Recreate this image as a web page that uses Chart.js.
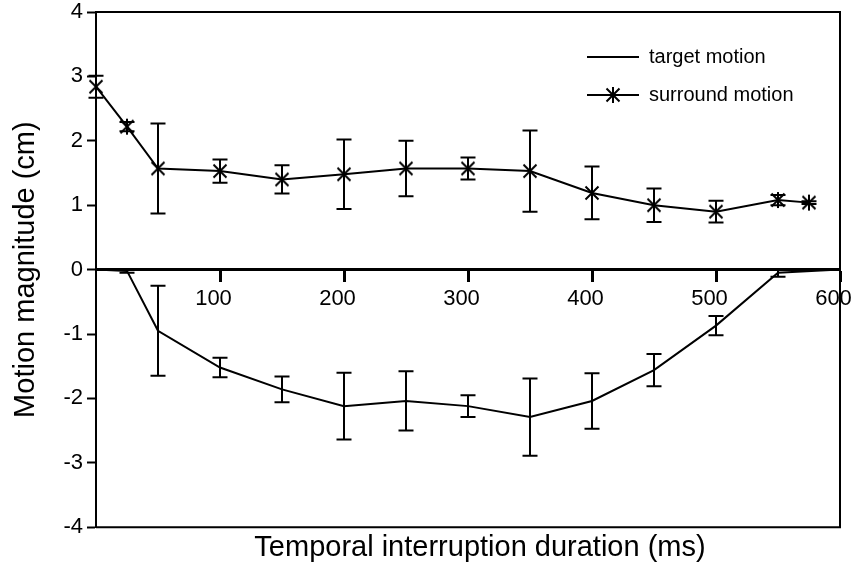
<!DOCTYPE html>
<html>
<head>
<meta charset="utf-8">
<script src="https://cdn.jsdelivr.net/npm/chart.js@4/dist/chart.umd.min.js"></script>
<style>html,body{margin:0;padding:0;background:#fff;}canvas{display:block;}</style>
</head>
<body>
<canvas id="chart" width="854" height="578"></canvas>
<script>
// ---- data ----
const surroundDurations = [0, 25, 50, 100, 150, 200, 250, 300, 350, 400, 450, 500, 550, 575];
const surroundMotion    = [2.84, 2.22, 1.57, 1.53, 1.40, 1.48, 1.57, 1.57, 1.53, 1.19, 1.00, 0.90, 1.08, 1.04];
const surroundError     = [0.17, 0.07, 0.70, 0.18, 0.22, 0.54, 0.43, 0.17, 0.63, 0.41, 0.26, 0.17, 0.08, 0.02];

const targetDurations = [0, 25, 50, 100, 150, 200, 250, 300, 350, 400, 450, 500, 550, 600];
const targetMotion    = [0, -0.02, -0.95, -1.52, -1.86, -2.12, -2.04, -2.12, -2.29, -2.04, -1.56, -0.87, -0.05, 0];
const targetError     = [0, 0.03, 0.70, 0.15, 0.20, 0.52, 0.46, 0.17, 0.60, 0.43, 0.25, 0.15, 0.06, 0];

const xTickValues = [100, 200, 300, 400, 500, 600];
const yTickValues = [-4, -3, -2, -1, 0, 1, 2, 3, 4];

const seriesLabels = ['target motion', 'surround motion'];
const xTitle = 'Temporal interruption duration (ms)';
const yTitle = 'Motion magnitude (cm)';

// ---- styling helpers ----
const FONT = "'Liberation Sans', Arial, Helvetica, sans-serif";
Chart.defaults.font.family = FONT;
Chart.defaults.color = '#000';

function drawAsterisk(ctx, cx, cy, half) {
  ctx.beginPath();
  ctx.moveTo(cx, cy - half - 1); ctx.lineTo(cx, cy + half + 1);
  ctx.moveTo(cx - half + 0.5, cy - half + 0.5); ctx.lineTo(cx + half - 0.5, cy + half - 0.5);
  ctx.moveTo(cx + half - 0.5, cy - half + 0.5); ctx.lineTo(cx - half + 0.5, cy + half - 0.5);
  ctx.stroke();
}
function makeCanvas(w, h, fn) {
  const c = document.createElement('canvas');
  c.width = w; c.height = h;
  const ctx = c.getContext('2d');
  ctx.strokeStyle = '#000'; ctx.lineWidth = 2;
  fn(ctx, w, h);
  return c;
}
const asteriskImg = makeCanvas(18, 18, (ctx) => drawAsterisk(ctx, 9, 9, 7));
const legendLineImg = makeCanvas(52, 6, (ctx, w, h) => {
  ctx.beginPath(); ctx.moveTo(0, h / 2); ctx.lineTo(w, h / 2); ctx.stroke();
});
const legendStarImg = makeCanvas(52, 18, (ctx, w, h) => {
  ctx.beginPath(); ctx.moveTo(0, h / 2); ctx.lineTo(w, h / 2); ctx.stroke();
  drawAsterisk(ctx, w / 2, h / 2, 7);
});

// error bars drawn through the chart's own scales
const errorBarPlugin = {
  id: 'errorBars',
  afterDatasetsDraw(chart) {
    const ctx = chart.ctx;
    const xs = chart.scales.x, ys = chart.scales.y;
    ctx.save();
    ctx.strokeStyle = '#000';
    ctx.lineWidth = 2;
    chart.data.datasets.forEach((ds) => {
      const errs = ds.errors || [];
      ds.data.forEach((pt, i) => {
        const e = errs[i];
        if (!e) return;
        const px = xs.getPixelForValue(pt.x);
        const top = ys.getPixelForValue(pt.y + e);
        const bot = ys.getPixelForValue(pt.y - e);
        const cap = 7.5;
        ctx.beginPath();
        ctx.moveTo(px, top); ctx.lineTo(px, bot);
        ctx.moveTo(px - cap, top); ctx.lineTo(px + cap, top);
        ctx.moveTo(px - cap, bot); ctx.lineTo(px + cap, bot);
        ctx.stroke();
      });
    });
    ctx.restore();
  }
};

// plot frame
const framePlugin = {
  id: 'frame',
  afterDraw(chart) {
    const {left, right, top, bottom} = chart.chartArea;
    const ctx = chart.ctx;
    ctx.save();
    ctx.strokeStyle = '#000';
    ctx.lineWidth = 2;
    ctx.beginPath();
    ctx.moveTo(left, top); ctx.lineTo(right, top); ctx.lineTo(right, bottom); ctx.lineTo(left, bottom);
    ctx.stroke();
    ctx.restore();
  }
};

// place the legend inside the plot (top right) and nudge the bottom title
const placePlugin = {
  id: 'place',
  afterLayout(chart) {
    const lg = chart.legend;
    if (lg) {
      const w = lg.width, h = 200;
      lg.left = 569; lg.right = 569 + w;
      lg.top = 29; lg.bottom = 29 + h;
    }
    const tb = chart.titleBlock;
    if (tb) { tb.left += 12; tb.right += 12; }
  }
};

const targetPoints = targetDurations.map((d, i) => ({x: d, y: targetMotion[i]}));
const surroundPoints = surroundDurations.map((d, i) => ({x: d, y: surroundMotion[i]}));

new Chart(document.getElementById('chart'), {
  type: 'line',
  data: {
    datasets: [
      {
        label: seriesLabels[0],
        data: targetPoints,
        errors: targetError,
        borderColor: '#000',
        borderWidth: 2,
        pointRadius: 0,
        tension: 0,
        fill: false,
        clip: false
      },
      {
        label: seriesLabels[1],
        data: surroundPoints,
        errors: surroundError,
        borderColor: '#000',
        borderWidth: 2,
        pointStyle: asteriskImg,
        pointRadius: 8,
        tension: 0,
        fill: false,
        clip: false
      }
    ]
  },
  options: {
    responsive: false,
    animation: false,
    events: [],
    layout: { padding: { left: 0, right: 14, top: 12, bottom: 0 } },
    scales: {
      x: {
        type: 'linear',
        min: 0, max: 600,
        position: { y: 0 },
        afterBuildTicks(axis) { axis.ticks = xTickValues.map(v => ({value: v})); },
        afterFit(axis) { axis.paddingLeft = 0; axis.paddingRight = 0; },
        ticks: {
          font: { size: 22 },
          color: '#000',
          padding: 5,
          labelOffset: -6.5,
          maxRotation: 0,
          autoSkip: false
        },
        grid: {
          drawOnChartArea: false,
          drawTicks: true,
          tickLength: 11,
          tickWidth: 3,
          tickColor: '#000'
        },
        border: { display: true, color: '#000', width: 3 }
      },
      y: {
        type: 'linear',
        min: -4, max: 4,
        position: 'left',
        afterBuildTicks(axis) { axis.ticks = yTickValues.map(v => ({value: v})); },
        afterFit(axis) { axis.width = 96; axis.paddingTop = 0; axis.paddingBottom = 0; },
        ticks: {
          font: { size: 22 },
          color: '#000',
          padding: 4,
          autoSkip: false
        },
        grid: {
          drawOnChartArea: false,
          drawTicks: true,
          tickLength: 9,
          tickWidth: 2,
          tickColor: '#000'
        },
        border: { display: true, color: '#000', width: 2 },
        title: {
          display: true,
          text: yTitle,
          font: { size: 29 },
          color: '#000',
          padding: { top: 9, bottom: 0 }
        }
      }
    },
    plugins: {
      title: {
        display: true,
        text: xTitle,
        position: 'bottom',
        fullSize: false,
        font: { size: 29, weight: 'normal' },
        color: '#000',
        padding: { top: 3, bottom: 13 }
      },
      legend: {
        display: true,
        position: 'chartArea',
        align: 'start',
        labels: {
          usePointStyle: true,
          pointStyleWidth: 52,
          font: { size: 20 },
          color: '#000',
          padding: 18,
          generateLabels(chart) {
            return chart.data.datasets.map((ds, i) => ({
              text: ds.label,
              pointStyle: i === 0 ? legendLineImg : legendStarImg,
              fillStyle: '#000',
              strokeStyle: '#000',
              lineWidth: 0,
              hidden: false,
              datasetIndex: i,
              fontColor: '#000'
            }));
          }
        }
      },
      tooltip: { enabled: false }
    }
  },
  plugins: [errorBarPlugin, framePlugin, placePlugin]
});
</script>
</body>
</html>
